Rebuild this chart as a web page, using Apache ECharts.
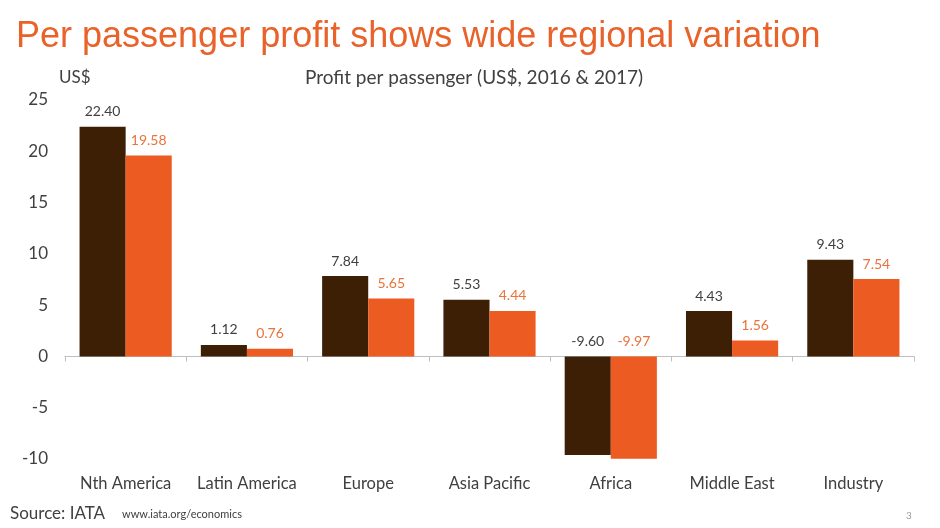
<!DOCTYPE html>
<html><head><meta charset="utf-8">
<script src="https://cdn.jsdelivr.net/npm/echarts@6/dist/echarts.min.js"></script>
<style>html,body{margin:0;padding:0;background:#fff}#c{width:940px;height:528px}</style>
</head><body><div id="c"></div>
<script>
const categories = ['Nth America','Latin America','Europe','Asia Pacific','Africa','Middle East','Industry'];
const profit2016 = [22.40, 1.12, 7.84, 5.53, -9.60, 4.43, 9.43];
const profit2017 = [19.58, 0.76, 5.65, 4.44, -9.97, 1.56, 7.54];
const yTicks = {min: -10, max: 25, interval: 5};

const font = 'Lato, "Open Sans", sans-serif';
const chart = echarts.init(document.getElementById('c'));
chart.setOption({
  animation: false,
  backgroundColor: '#fff',
  title: [
    {text: 'Per passenger profit shows wide regional variation', left: 16, top: 19, padding: 0,
     textStyle: {fontFamily: '"Liberation Sans", Arial, sans-serif', fontSize: 36, fontWeight: 'normal', color: '#E8622A'}},
    {text: 'Profit per passenger (US$, 2016 & 2017)', left: 305, top: 68, padding: 0,
     textStyle: {fontFamily: font, fontSize: 19, fontWeight: 'normal', color: '#404040'}},
    {text: 'US$', left: 59, top: 69, padding: 0,
     textStyle: {fontFamily: font, fontSize: 17, fontWeight: 'normal', color: '#404040'}},
    {text: 'Source: IATA', left: 10, top: 505, padding: 0,
     textStyle: {fontFamily: font, fontSize: 17, fontWeight: 'normal', color: '#404040'}},
    {text: 'www.iata.org/economics', left: 122, top: 509, padding: 0,
     textStyle: {fontFamily: font, fontSize: 11, fontWeight: 'normal', color: '#404040'}},
    {text: '3', left: 906, top: 511, padding: 0,
     textStyle: {fontFamily: font, fontSize: 10, fontWeight: 'normal', color: '#9a9a9a'}}
  ],
  grid: {left: 65, right: 26, top: 100, bottom: 69},
  xAxis: [
    {type: 'category', data: categories, position: 'bottom',
     axisLine: {show: false, onZero: false}, axisTick: {show: false},
     axisLabel: {interval: 0, margin: 16, fontFamily: font, fontSize: 16.5, color: '#404040'}},
    {type: 'category', data: categories, position: 'bottom',
     axisLine: {show: true, onZero: true, lineStyle: {color: '#bfbfbf'}},
     axisTick: {show: true, length: 5, lineStyle: {color: '#bfbfbf'}},
     axisLabel: {show: false}}
  ],
  yAxis: {type: 'value', min: yTicks.min, max: yTicks.max, interval: yTicks.interval,
    axisLine: {show: false}, axisTick: {show: false}, splitLine: {show: false},
    axisLabel: {margin: 17, fontFamily: font, fontSize: 17, color: '#404040'}},
  series: [
    {name: '2016', type: 'bar', data: profit2016, xAxisIndex: 0,
     barGap: '0%', barCategoryGap: '24%',
     itemStyle: {color: '#3D1F06'},
     label: {show: true, position: 'top', distance: 8, formatter: p => p.value.toFixed(2),
       fontFamily: font, fontSize: 14, color: '#404040'}},
    {name: '2017', type: 'bar', data: profit2017, xAxisIndex: 0,
     barGap: '0%', barCategoryGap: '24%',
     itemStyle: {color: '#EC5B22'},
     label: {show: true, position: 'top', distance: 8, formatter: p => p.value.toFixed(2),
       fontFamily: font, fontSize: 14, color: '#E8743B'}}
  ]
});
</script></body></html>
